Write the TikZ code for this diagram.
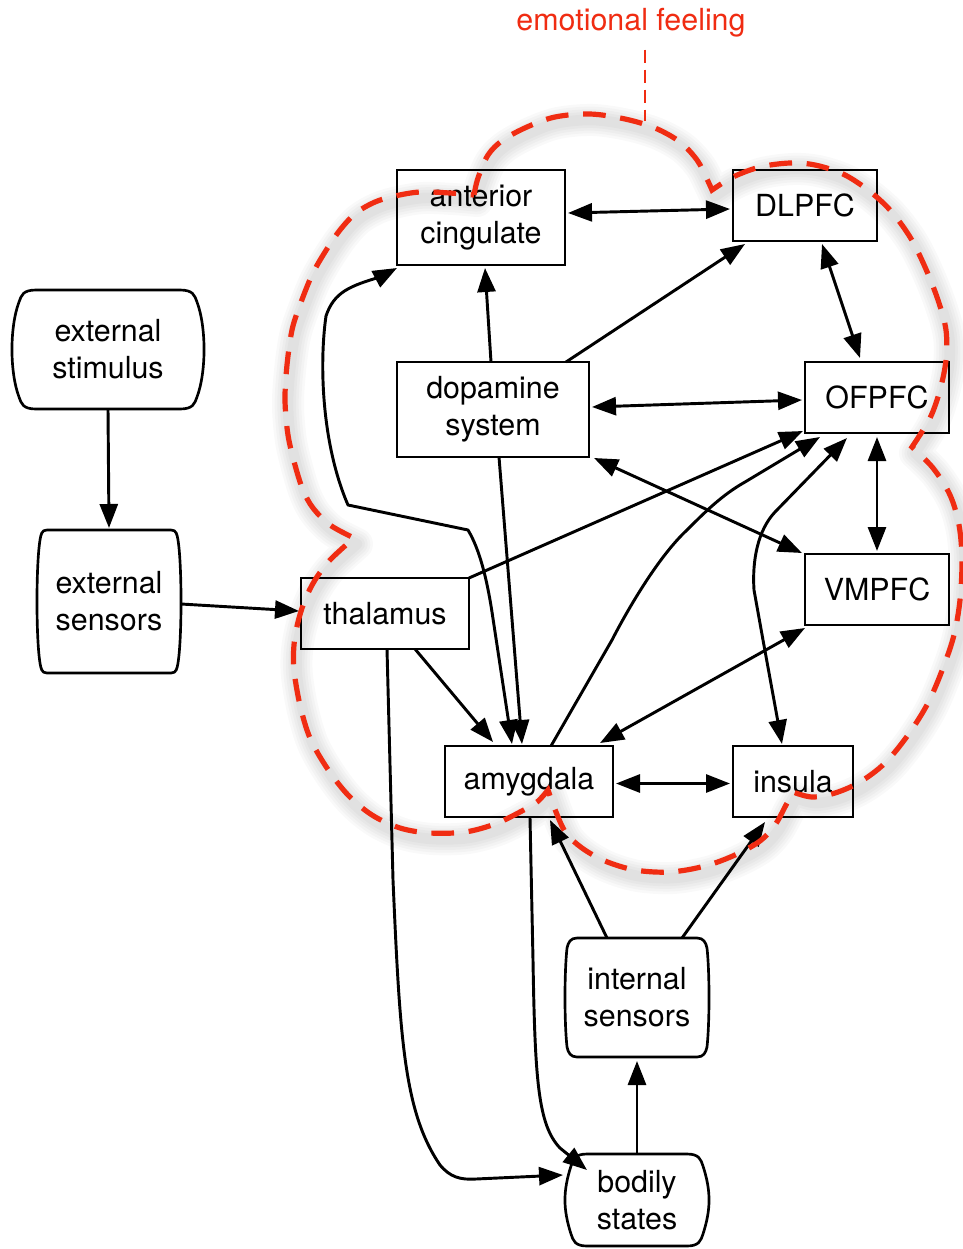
\documentclass[tikz,border=0pt]{standalone}
\usepackage{fontspec}
\setmainfont{TeX Gyre Heros}
\usetikzlibrary{arrows.meta,calc}
\definecolor{emored}{RGB}{240,44,18}
\def\PX{0.75pt}
\newcommand\nodefont{\fontsize{22.8}{27.8}\selectfont}
\newcommand\softoutline[4]{%
\draw[boxline]
 ($(#1.north west)+(#2,0)$) -- ($(#1.north east)+(-#2,0)$)
 .. controls ($(#1.north east)+(-0.45*#2,0)$) and ($(#1.north east)+(-#4-0.1*#2,0.45*#3)$) .. ($(#1.north east)+(-#4,#3)$)
 .. controls ($(#1.north east)+(0.34*#4,#3+25)$) and ($(#1.south east)+(0.34*#4,-#3-25)$) .. ($(#1.south east)+(-#4,-#3)$)
 .. controls ($(#1.south east)+(-#4-0.1*#2,-0.45*#3)$) and ($(#1.south east)+(-0.45*#2,0)$) .. ($(#1.south east)+(-#2,0)$)
 -- ($(#1.south west)+(#2,0)$)
 .. controls ($(#1.south west)+(0.45*#2,0)$) and ($(#1.south west)+(#4+0.1*#2,-0.45*#3)$) .. ($(#1.south west)+(#4,-#3)$)
 .. controls ($(#1.south west)+(-0.34*#4,-#3-25)$) and ($(#1.north west)+(-0.34*#4,#3+25)$) .. ($(#1.north west)+(#4,#3)$)
 .. controls ($(#1.north west)+(#4+0.1*#2,0.45*#3)$) and ($(#1.north west)+(0.45*#2,0)$) .. ($(#1.north west)+(#2,0)$) -- cycle;}
\def\emopath{%
 plot[smooth,tension=0.55] coordinates {(474,195) (478,178) (488,155) (503,140) (527,127) (555,117) (590,114) (625,119) (655,128) (680,142) (697,160) (706,177) (712,190)}
 -- plot[smooth,tension=0.55] coordinates {(712,190) (733,177) (760,167) (790,163) (815,165) (843,174) (868,190) (890,210) (910,237) (925,267) (938,300) (946,330) (946,360) (940,390) (930,418) (912,447)}
 -- plot[smooth,tension=0.55] coordinates {(912,447) (933,468) (950,495) (959,525) (962,560) (960,600) (954,635) (943,668) (928,703) (908,735) (885,763) (860,782) (835,793) (812,797) (793,792)}
 -- plot[smooth,tension=0.55] coordinates {(793,792) (786,805) (775,825) (760,841) (735,855) (705,866) (670,872) (635,870) (605,861) (582,848) (566,833) (556,812) (548,790)}
 -- plot[smooth,tension=0.55] coordinates {(548,790) (537,802) (520,812) (495,824) (465,832) (430,833) (400,828) (372,815) (348,795) (327,768) (310,738) (300,705) (294,670) (294,645) (298,622) (305,600) (315,580) (330,560) (354,538)}
 -- plot[smooth,tension=0.55] coordinates {(354,538) (330,525) (313,508) (303,490) (295,465) (288,435) (285,400) (287,365) (292,330) (300,305) (312,275) (325,252) (340,230) (356,213) (375,202) (395,196) (420,192) (450,193) (474,195)}}
\begin{document}
\begin{tikzpicture}[x=0.75pt,y=-0.75pt,
  >={Triangle[length=18pt,width=13.5pt]},
  box/.style={draw,line width=2pt,rectangle,inner sep=0pt,outer sep=0pt,font=\nodefont,align=center},
  softbox/.style={rectangle,inner sep=0pt,outer sep=0pt,font=\nodefont,align=center},
  boxline/.style={line width=2pt,line join=round},
  link/.style={line width=2.2pt,line join=round},
  emo/.style={draw=emored,line width=3.9pt,dash pattern=on 17pt off 11pt},
  emoshadow/.style={draw=black,line width=#1,opacity=0.022,line join=round,line cap=round},
  labeltext/.style={text=emored,font=\nodefont,inner sep=0pt}]
\useasboundingbox (0,0) rectangle (963,1249);
\fill[white] (0,0) rectangle (963,1249);

% nodes
\node[softbox,minimum width=192*\PX,minimum height=119*\PX] (es) at (108,349.5) {external\\stimulus};
\node[softbox,minimum width=144*\PX,minimum height=143*\PX] (esn) at (109,601.5) {external\\sensors};
\node[box,minimum width=168*\PX,minimum height=95*\PX] (ac) at (481,217.5) {anterior\\cingulate};
\node[box,minimum width=144*\PX,minimum height=71*\PX] (dl) at (805,205.5) {DLPFC};
\node[box,minimum width=192*\PX,minimum height=95*\PX] (dop) at (493,409.5) {dopamine\\system};
\node[box,minimum width=144*\PX,minimum height=71*\PX] (of) at (877,397.5) {OFPFC};
\node[box,minimum width=168*\PX,minimum height=71*\PX] (th) at (385,613.5) {thalamus};
\node[box,minimum width=144*\PX,minimum height=71*\PX] (vm) at (877,589.5) {VMPFC};
\node[box,minimum width=168*\PX,minimum height=71*\PX] (amy) at (529,781.5) {amygdala};
\node[box,minimum width=120*\PX,minimum height=71*\PX] (ins) at (793,781.5) {insula};
\node[softbox,minimum width=144*\PX,minimum height=119*\PX] (isn) at (637,997.5) {internal\\sensors};
\node[softbox,minimum width=144*\PX,minimum height=92*\PX] (bs) at (637,1200) {bodily\\states};
\node[labeltext] (lbl) at (631,23) {emotional feeling};

\softoutline{es}{24}{12}{7}
\softoutline{esn}{10}{10}{3}
\softoutline{isn}{12}{10}{2}
\softoutline{bs}{22}{12}{6}

% connectors
\draw[link,->] (es.south) -- ($(esn.north)+(0,-2)$);
\draw[link,->] ($(esn.east)+(0,2.5)$) -- ($(th.west)+(-2,-2.5)$);
\draw[link,<->] ($(ac.east)+(3,-4.5)$) -- ($(dl.west)+(-3,3.5)$);
\draw[link,->] ($(dop.north)+(-2,0)$) -- ($(ac.south)+(4,3)$);
\draw[link,->] ($(dop.north)+(73,0)$) -- ($(dl.south west)+(12,3)$);
\draw[link,<->] ($(dop.east)+(3,-2.5)$) -- ($(of.west)+(-3,2.5)$);
\draw[link,<->] ($(dop.south east)+(5,1)$) -- ($(vm.north west)+(-3,-1)$);
\draw[link,->] ($(dop.south)+(6,0)$) -- ($(amy.north)+(-7,-2)$);
\draw[link,<->] ($(dl.south)+(17,3)$) -- ($(of.north)+(-17,-4)$);
\draw[link,<->] ($(of.south)+(0,4)$) -- ($(vm.north)+(0,-3)$);
\draw[link,->] (th.north east) -- ($(of.south west)+(-2,-2)$);
\draw[link,->] ($(th.south)+(30,0)$) -- ($(amy.north)+(-36,-4)$);
\draw[link,->] ($(th.south)+(2,0)$) -- (393,880) .. controls (400,1040) and (404,1112) .. (440,1165)
   .. controls (450,1177) and (460,1180) .. (476,1179) -- ($(bs.west)+(-2,-25)$);
\draw[link,<->] ($(ac.south west)+(0,3)$) -- (380,277) .. controls (350,286) and (334,292) .. (326,316)
   .. controls (319,365) and (322,445) .. (348,505) -- (468,530)
   .. controls (480,550) and (487,580) .. (492,612) -- ($(amy.north)+(-17,-2)$);
\draw[link,->] ($(amy.north)+(22,0)$) -- (612,640) .. controls (630,605) and (660,555) .. (687,530)
   .. controls (705,512) and (722,495) .. (745,482) -- ($(of.south west)+(15,4)$);
\draw[link,<->] ($(ins.north)+(-11,-2)$) -- (763,640) -- (754,590) .. controls (752,560) and (758,530) .. (775,512)
   -- ($(of.south)+(-30,5)$);
\draw[link,<->] ($(vm.south west)+(0,3)$) -- ($(amy.north east)+(-13,-3)$);
\draw[link,<->] ($(amy.east)+(3,2)$) -- ($(ins.west)+(-3,2)$);
\draw[link,->] ($(isn.north)+(-30,0)$) -- ($(amy.south)+(21,3)$);
\draw[link,->] ($(isn.north)+(45,0)$) -- ($(ins.south)+(-28,5)$);
\draw[link,->] (bs.north) -- ($(isn.south)+(0,4)$);
\draw[link,->] ($(amy.south)+(1,1)$) -- (533,960) .. controls (535,1080) and (538,1125) .. (560,1148)
   -- ($(bs.north west)+(22,16)$);

% emotional feeling region
\begin{scope}[shift={(3,6)}]
\foreach \w in {24,20,16,12,8}{\path[emoshadow=\w pt] \emopath;}
\end{scope}
\path[emo] \emopath;
\coordinate (ef) at (645,121);
\draw[emored,line width=1.9pt,dash pattern=on 10pt off 5pt] ($(lbl.south)+(14,12)$) -- (ef);
\end{tikzpicture}
\end{document}
